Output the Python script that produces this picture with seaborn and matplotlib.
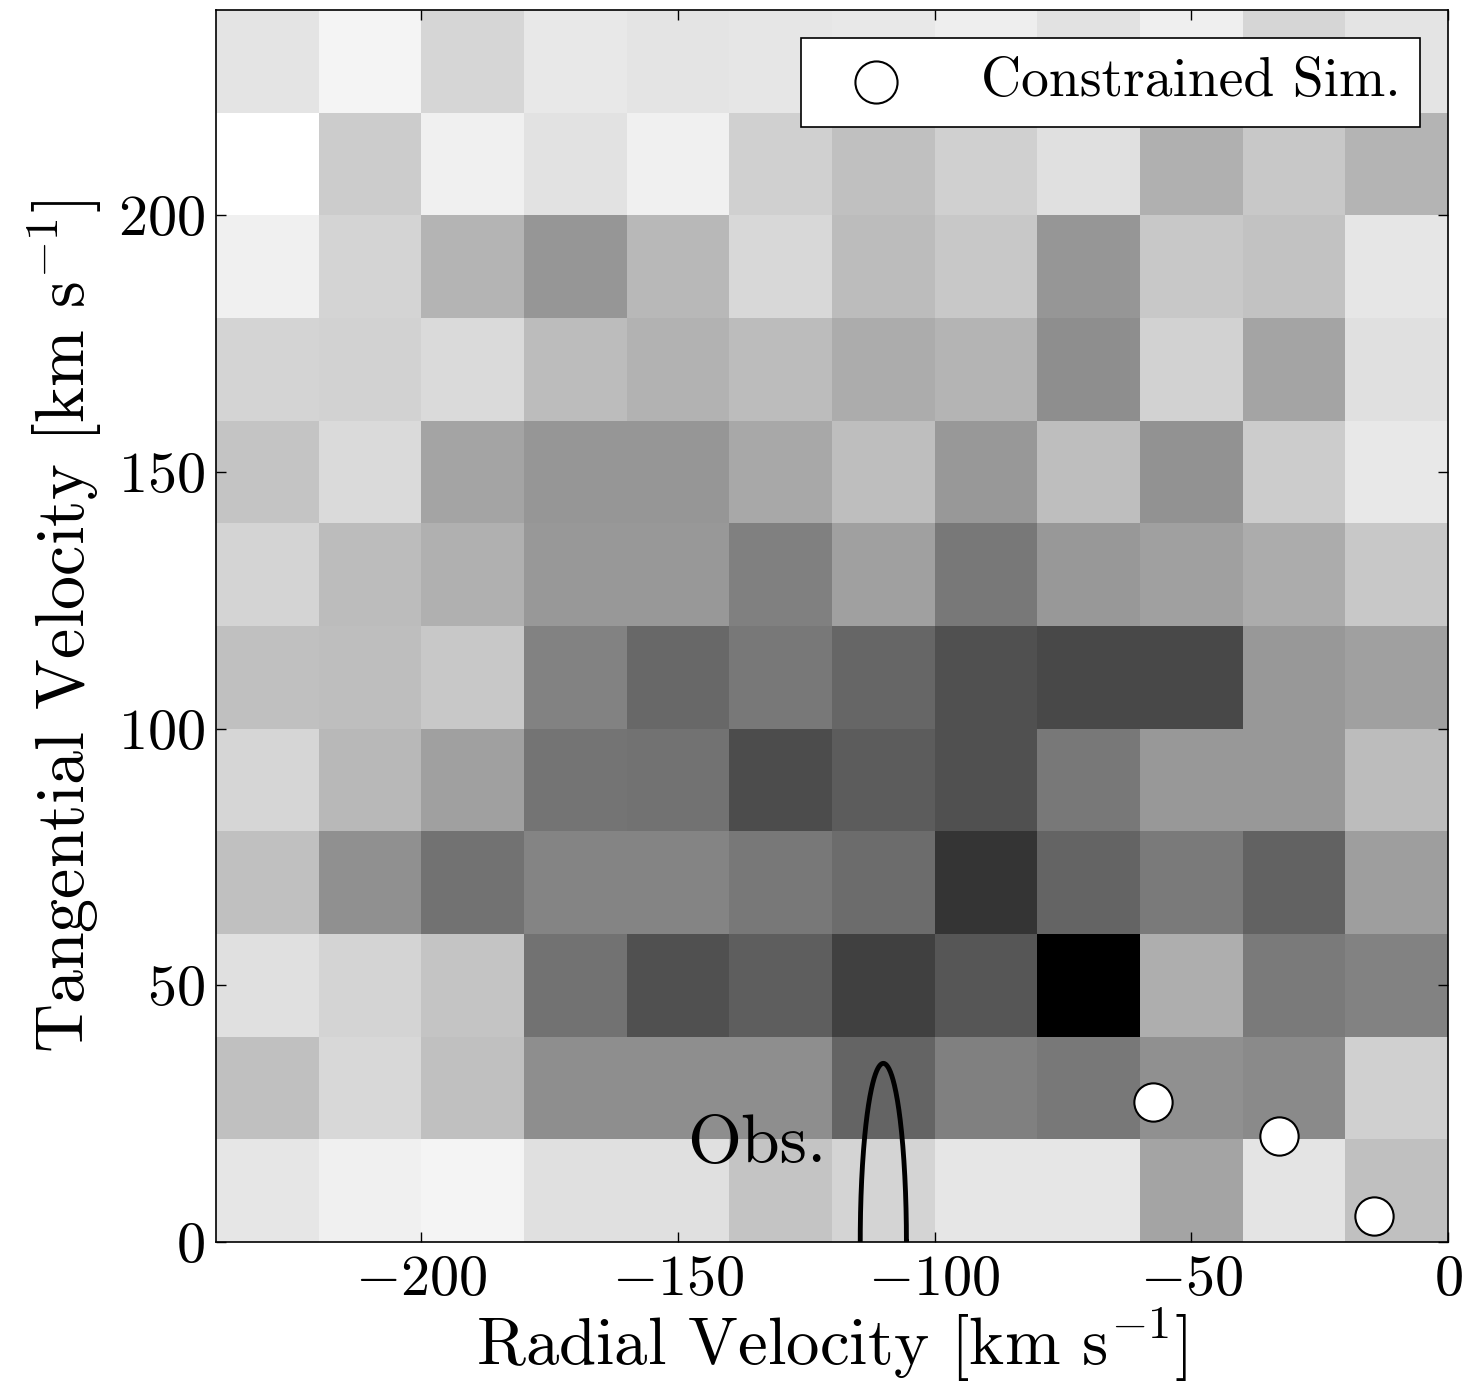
import numpy as np
import pandas as pd
import matplotlib
matplotlib.use("Agg")
import matplotlib.pyplot as plt
import seaborn as sns

# bin edges (km/s)
vr_edges = np.arange(-240, 1, 20)
vt_edges = np.arange(0, 241, 20)

# 2D histogram counts, rows from top (vt 220-240) to bottom (vt 0-20)
counts = [
    [27, 11, 41, 23, 27, 25, 23, 17, 29, 16, 41, 27],
    [0, 51, 15, 29, 15, 47, 63, 47, 31, 79, 55, 75],
    [15, 43, 75, 105, 71, 39, 67, 55, 105, 55, 61, 25],
    [43, 45, 37, 67, 77, 67, 83, 75, 113, 45, 91, 31],
    [59, 37, 91, 105, 105, 87, 65, 103, 65, 109, 51, 23],
    [43, 67, 79, 103, 103, 127, 95, 135, 103, 95, 83, 55],
    [63, 65, 55, 125, 151, 135, 153, 175, 183, 183, 103, 95],
    [41, 71, 95, 139, 141, 179, 163, 175, 135, 103, 103, 67],
    [63, 111, 141, 123, 123, 135, 147, 203, 155, 133, 157, 97],
    [31, 43, 59, 141, 175, 161, 191, 169, 255, 81, 133, 125],
    [63, 39, 63, 113, 113, 113, 155, 127, 135, 111, 117, 47],
    [25, 15, 11, 31, 31, 59, 43, 25, 25, 91, 27, 63],
]

# constrained simulation points
sim_vr = [-57.5, -33.0, -14.5]
sim_vt = [27.3, 20.6, 5.1]

# observed constraint (ellipse contour)
obs_center = (-110.0, 0.0)
obs_semi = (4.5, 34.8)

plt.rcParams["font.family"] = "serif"
plt.rcParams["font.serif"] = ["cmr10", "DejaVu Serif"]
plt.rcParams["mathtext.fontset"] = "cm"
plt.rcParams["axes.formatter.use_mathtext"] = True

xc = (vr_edges[:-1] + vr_edges[1:]) / 2
yc = (vt_edges[:-1] + vt_edges[1:]) / 2
grid = np.array(counts)[::-1]
XX, YY = np.meshgrid(xc, yc)
df = pd.DataFrame({"vr": XX.ravel(), "vt": YY.ravel(), "n": grid.ravel()})

fig = plt.figure(figsize=(14.65, 13.86), dpi=100)
ax = fig.add_axes([216 / 1465, 1 - 1242 / 1386, 1232 / 1465, 1232 / 1386])

sns.histplot(data=df, x="vr", y="vt", weights="n", bins=[vr_edges, vt_edges],
             cmap="gray_r", vmin=0, vmax=255, ax=ax)

t = np.linspace(0, 2 * np.pi, 400)
ax.plot(obs_center[0] + obs_semi[0] * np.cos(t),
        obs_center[1] + obs_semi[1] * np.sin(t), color="black", lw=3.5)
ax.text(-121, 15.6, "Obs.", fontsize=50, ha="right", va="baseline")

sns.scatterplot(x=sim_vr, y=sim_vt, s=760, color="white", edgecolor="black",
                linewidth=1.5, label="Constrained Sim.", zorder=5, ax=ax)

ax.set_xlim(-240, 0)
ax.set_ylim(0, 240)
ax.set_xticks([-200, -150, -100, -50, 0])
ax.set_yticks([0, 50, 100, 150, 200])
ax.tick_params(direction="in", top=True, right=True, length=7, width=1,
               labelsize=42)
ax.tick_params(axis="x", pad=9)
ax.tick_params(axis="y", pad=8)
for s in ax.spines.values():
    s.set_linewidth(1.2)

ax.set_xlabel(r"Radial Velocity [km s$^{-1}$]", fontsize=48, labelpad=0)
ax.set_ylabel(r"Tangential Velocity [km s$^{-1}$]", fontsize=49, labelpad=10)

leg = ax.legend(loc="upper right", fontsize=40, frameon=True, fancybox=False,
                edgecolor="black", framealpha=1, scatterpoints=1,
                markerscale=1.1, borderaxespad=0.5, borderpad=0.35,
                handletextpad=0.9, handlelength=2.0)
leg.get_frame().set_linewidth(1.2)

fig.savefig("out.png", dpi=100)
